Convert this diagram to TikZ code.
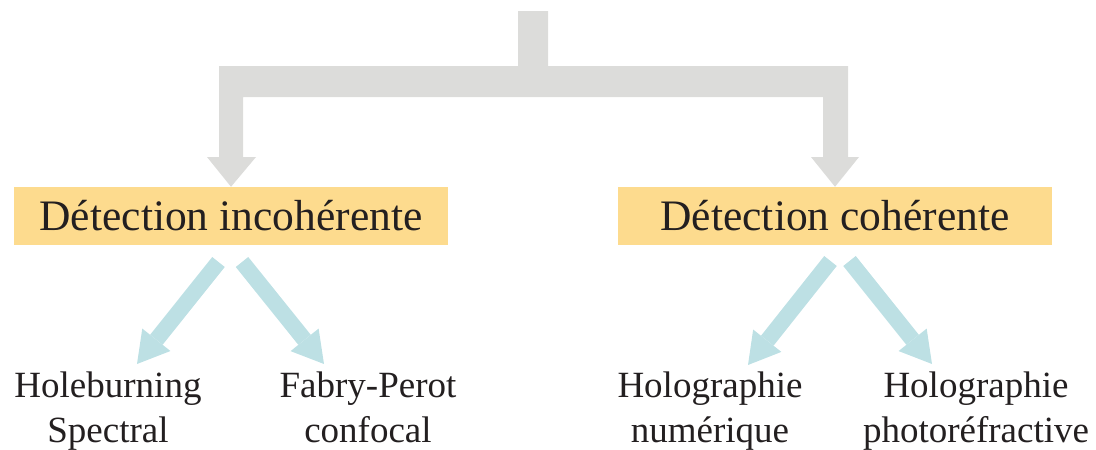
\documentclass[tikz,border=0pt]{standalone}
\usepackage{fontspec}
\setmainfont{Liberation Serif}
\usetikzlibrary{arrows.meta}
\definecolor{grayc}{HTML}{DCDCDA}
\definecolor{boxc}{HTML}{FDDB8E}
\definecolor{tealc}{HTML}{BDE0E4}
\definecolor{txtc}{HTML}{231F20}
\tikzset{
  catbox/.style={fill=boxc, inner sep=0pt, minimum width=434pt, minimum height=58pt, text=txtc, font=\fontsize{43.5}{50}\selectfont},
  leaf/.style={anchor=north, inner sep=0pt, align=center, text=txtc, font=\fontsize{37}{45}\selectfont},
  tealarrow/.style={draw=tealc, line width=16pt, -{Triangle[length=31pt,width=36pt,line width=0pt]}},
}
\begin{document}
\begin{tikzpicture}[x=1pt,y=-1pt]
\useasboundingbox (0,0) rectangle (1096,450);
% category boxes
\node[catbox] (inc) at (231,216) {Détection incohérente};
\node[catbox] (coh) at (835,216) {Détection cohérente};
% gray branching connector
\coordinate (top) at (533,11);
\fill[grayc] (518,11) -- (548,11) -- (548,66) -- (848,66) -- (848,157) -- (859,157)
  -- (coh.north) -- (811,157) -- (823,157) -- (823,97) -- (243,97) -- (243,157)
  -- (256,157) -- (inc.north) -- (207,157) -- (219,157) -- (219,66) -- (518,66) -- cycle;
% leaves
\node[leaf] (hb) at (108,372) {Holeburning\\Spectral};
\node[leaf] (fp) at (368,372) {Fabry-Perot\\confocal};
\node[leaf] (hn) at (710,372) {Holographie\\numérique};
\node[leaf] (hp) at (976,372) {Holographie\\photoréfractive};
% teal arrows
\coordinate (t1) at (218.5,262); \coordinate (h1) at (137,364);
\coordinate (t2) at (242,262);   \coordinate (h2) at (324,364);
\coordinate (t3) at (830.5,261); \coordinate (h3) at (748,365);
\coordinate (t4) at (849.5,261); \coordinate (h4) at (932,364);
\draw[tealarrow] (t1) -- (h1);
\draw[tealarrow] (t2) -- (h2);
\draw[tealarrow] (t3) -- (h3);
\draw[tealarrow] (t4) -- (h4);
\end{tikzpicture}
\end{document}
